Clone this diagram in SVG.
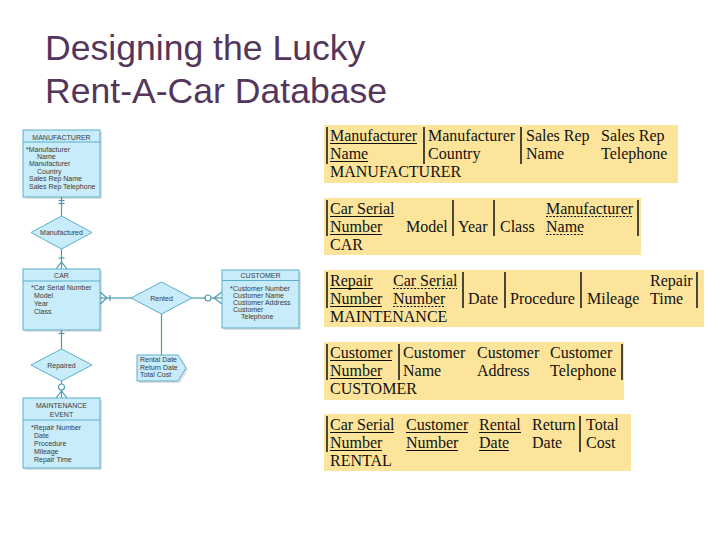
<svg xmlns="http://www.w3.org/2000/svg" width="720" height="540" viewBox="0 0 720 540">
<style>
.title{font-family:"Liberation Sans",Arial,sans-serif;font-size:35.6px;fill:#55365b}
.box{fill:#c8ecfa;stroke:#5aaecb;stroke-width:1}
.shadow{fill:#000;opacity:0.12}
.hdr{font-family:"Liberation Sans",Arial,sans-serif;font-size:7px;fill:#3a3a3a;text-anchor:middle}
.att{font-family:"Liberation Sans",Arial,sans-serif;font-size:7px;fill:#3a3a3a}
.sep{stroke:#5aaecb;stroke-width:1}
.con{stroke:#4a9bb0;stroke-width:1.2;fill:none}
.circ{stroke:#4a9bb0;stroke-width:1.1;fill:#fff}
.tbl{fill:#fde49b}
.vl{stroke:#111;stroke-width:1.5}
.t{font-family:"Liberation Serif","Times New Roman",serif;font-size:16px;fill:#111}
.u{stroke:#111;stroke-width:1}
.d{stroke:#111;stroke-width:1;stroke-dasharray:2 1.5}
</style>
<rect width="720" height="540" fill="#fff"/>
<g id="title">
<text class="title" x="45" y="60">Designing the Lucky</text>
<text class="title" x="45" y="103">Rent-A-Car Database</text>
</g>

<g id="connectors">
<line class="con" x1="61.5" y1="197" x2="61.5" y2="216"/>
<line class="con" x1="58.5" y1="200.5" x2="64.5" y2="200.5"/>
<line class="con" x1="58.5" y1="203.5" x2="64.5" y2="203.5"/>
<line class="con" x1="61.5" y1="249" x2="61.5" y2="269"/>
<line class="con" x1="58.5" y1="258" x2="64.5" y2="258"/>
<path class="con" d="M56,269 L61.5,262 L67,269"/>
<line class="con" x1="100" y1="298" x2="131" y2="298"/>
<path class="con" d="M100,292 L107,298 L100,304"/>
<line class="con" x1="110" y1="295" x2="110" y2="301"/>
<line class="con" x1="192" y1="298" x2="222" y2="298"/>
<path class="con" d="M222,292 L214,298 L222,304"/>
<circle class="circ" cx="208" cy="298" r="3"/>
<line class="con" x1="161.5" y1="314" x2="161.5" y2="355"/>
<line class="con" x1="61.5" y1="330" x2="61.5" y2="349"/>
<line class="con" x1="58.5" y1="333.5" x2="64.5" y2="333.5"/>
<line class="con" x1="61.5" y1="381" x2="61.5" y2="398"/>
<path class="con" d="M56,398 L61.5,391 L67,398"/>
<circle class="circ" cx="61.5" cy="387" r="3"/>
</g>

<g id="manufacturer">
<rect class="shadow" x="25" y="132" width="77" height="67"/>
<rect class="box" x="23" y="130" width="77" height="67"/>
<line class="sep" x1="23" y1="142" x2="100" y2="142"/>
<text class="hdr" x="61.5" y="139.5">MANUFACTURER</text>
<text class="att" x="26" y="151.5">*Manufacturer</text>
<text class="att" x="37" y="158.5">Name</text>
<text class="att" x="29" y="166">Manufacturer</text>
<text class="att" x="37" y="173.5">Country</text>
<text class="att" x="29" y="181">Sales Rep Name</text>
<text class="att" x="29" y="188.5">Sales Rep Telephone</text>
</g>

<g id="manufactured">
<polygon class="box" points="61.5,216 92,232.5 61.5,249 31,232.5"/>
<text class="hdr" x="61.5" y="235">Manufactured</text>
</g>

<g id="car">
<rect class="shadow" x="25" y="271" width="77" height="61"/>
<rect class="box" x="23" y="269" width="77" height="61"/>
<line class="sep" x1="23" y1="281" x2="100" y2="281"/>
<text class="hdr" x="61.5" y="278">CAR</text>
<text class="att" x="31" y="289.5">*Car Serial Number</text>
<text class="att" x="34" y="297.5">Model</text>
<text class="att" x="34" y="305.5">Year</text>
<text class="att" x="34" y="313.5">Class</text>
</g>

<g id="rented">
<polygon class="box" points="131,298 161.5,282 192,298 161.5,314"/>
<text class="hdr" x="161.5" y="300.5">Rented</text>
</g>

<g id="customer">
<rect class="shadow" x="224" y="272" width="77" height="58"/>
<rect class="box" x="222" y="270" width="77" height="58"/>
<line class="sep" x1="222" y1="280.5" x2="299" y2="280.5"/>
<text class="hdr" x="260.5" y="277.5">CUSTOMER</text>
<text class="att" x="230" y="290.5">*Customer Number</text>
<text class="att" x="233" y="297.5">Customer Name</text>
<text class="att" x="233" y="304.5">Customer Address</text>
<text class="att" x="233" y="311.5">Customer</text>
<text class="att" x="241" y="318.5">Telephone</text>
</g>

<g id="rental-attrs">
<path class="shadow" d="M139,357 L180,357 L188,370 L180,383 L139,383 Z"/>
<path class="box" d="M137,355 L178,355 L186,368 L178,381 L137,381 Z"/>
<text class="att" x="140" y="362">Rental Date</text>
<text class="att" x="140" y="369.5">Return Date</text>
<text class="att" x="140" y="377">Total Cost</text>
</g>

<g id="repaired">
<polygon class="box" points="61.5,349 92,365 61.5,381 31,365"/>
<text class="hdr" x="61.5" y="367.5">Repaired</text>
</g>

<g id="maintenance-event">
<rect class="shadow" x="25" y="400" width="77" height="70"/>
<rect class="box" x="23" y="398" width="77" height="70"/>
<line class="sep" x1="23" y1="420" x2="100" y2="420"/>
<text class="hdr" x="61.5" y="408">MAINTENANCE</text>
<text class="hdr" x="61.5" y="416.5">EVENT</text>
<text class="att" x="31" y="429.5">*Repair Number</text>
<text class="att" x="34" y="437.5">Date</text>
<text class="att" x="34" y="445.5">Procedure</text>
<text class="att" x="34" y="453.5">Mileage</text>
<text class="att" x="34" y="461.5">Repair Time</text>
</g>

<g id="table-manufacturer">
<rect class="tbl" x="324" y="125" width="354" height="58"/>
<line class="vl" x1="327" y1="127" x2="327" y2="164"/>
<line class="vl" x1="424" y1="127" x2="424" y2="164"/>
<line class="vl" x1="521" y1="127" x2="521" y2="164"/>
<text class="t" x="330" y="141">Manufacturer</text>
<text class="t" x="330" y="159">Name</text>
<line class="u" x1="330" y1="143.5" x2="417" y2="143.5"/>
<line class="u" x1="330" y1="161.5" x2="368" y2="161.5"/>
<text class="t" x="428" y="141">Manufacturer</text>
<text class="t" x="428" y="159">Country</text>
<text class="t" x="526" y="141">Sales Rep</text>
<text class="t" x="526" y="159">Name</text>
<text class="t" x="601" y="141">Sales Rep</text>
<text class="t" x="601" y="159">Telephone</text>
<text class="t" x="330" y="177">MANUFACTURER</text>
</g>

<g id="table-car">
<rect class="tbl" x="324" y="198" width="317" height="57"/>
<line class="vl" x1="327" y1="200" x2="327" y2="236"/>
<line class="vl" x1="453" y1="200" x2="453" y2="236"/>
<line class="vl" x1="494" y1="200" x2="494" y2="236"/>
<line class="vl" x1="638" y1="200" x2="638" y2="236"/>
<text class="t" x="330" y="214">Car Serial</text>
<text class="t" x="330" y="232">Number</text>
<line class="u" x1="330" y1="216.5" x2="394" y2="216.5"/>
<line class="u" x1="330" y1="234.5" x2="382" y2="234.5"/>
<text class="t" x="406" y="232">Model</text>
<text class="t" x="458" y="232">Year</text>
<text class="t" x="500" y="232">Class</text>
<text class="t" x="546" y="214">Manufacturer</text>
<text class="t" x="546" y="232">Name</text>
<line class="d" x1="546" y1="216.5" x2="633" y2="216.5"/>
<line class="d" x1="546" y1="234.5" x2="584" y2="234.5"/>
<text class="t" x="330" y="250">CAR</text>
</g>

<g id="table-maintenance">
<rect class="tbl" x="324" y="270" width="380" height="57"/>
<line class="vl" x1="327" y1="272" x2="327" y2="308"/>
<line class="vl" x1="463" y1="272" x2="463" y2="308"/>
<line class="vl" x1="505" y1="272" x2="505" y2="308"/>
<line class="vl" x1="581" y1="272" x2="581" y2="308"/>
<line class="vl" x1="697" y1="272" x2="697" y2="308"/>
<text class="t" x="330" y="286">Repair</text>
<text class="t" x="330" y="304">Number</text>
<line class="u" x1="330" y1="288.5" x2="373" y2="288.5"/>
<line class="u" x1="330" y1="306.5" x2="382" y2="306.5"/>
<text class="t" x="393" y="286">Car Serial</text>
<text class="t" x="393" y="304">Number</text>
<line class="d" x1="393" y1="288.5" x2="457" y2="288.5"/>
<line class="d" x1="393" y1="306.5" x2="445" y2="306.5"/>
<text class="t" x="468" y="304">Date</text>
<text class="t" x="510" y="304">Procedure</text>
<text class="t" x="587" y="304">Mileage</text>
<text class="t" x="650" y="286">Repair</text>
<text class="t" x="650" y="304">Time</text>
<text class="t" x="330" y="322">MAINTENANCE</text>
</g>

<g id="table-customer">
<rect class="tbl" x="324" y="342" width="300" height="58"/>
<line class="vl" x1="327" y1="344" x2="327" y2="380"/>
<line class="vl" x1="399" y1="344" x2="399" y2="380"/>
<line class="vl" x1="622" y1="344" x2="622" y2="380"/>
<text class="t" x="330" y="358">Customer</text>
<text class="t" x="330" y="376">Number</text>
<line class="u" x1="330" y1="360.5" x2="392" y2="360.5"/>
<line class="u" x1="330" y1="378.5" x2="382" y2="378.5"/>
<text class="t" x="403" y="358">Customer</text>
<text class="t" x="403" y="376">Name</text>
<text class="t" x="477" y="358">Customer</text>
<text class="t" x="477" y="376">Address</text>
<text class="t" x="550" y="358">Customer</text>
<text class="t" x="550" y="376">Telephone</text>
<text class="t" x="330" y="394">CUSTOMER</text>
</g>

<g id="table-rental">
<rect class="tbl" x="324" y="414" width="307" height="57"/>
<line class="vl" x1="327" y1="416" x2="327" y2="452"/>
<line class="vl" x1="580" y1="416" x2="580" y2="452"/>
<text class="t" x="330" y="430">Car Serial</text>
<text class="t" x="330" y="448">Number</text>
<line class="u" x1="330" y1="432.5" x2="394" y2="432.5"/>
<line class="u" x1="330" y1="450.5" x2="382" y2="450.5"/>
<text class="t" x="406" y="430">Customer</text>
<text class="t" x="406" y="448">Number</text>
<line class="u" x1="406" y1="432.5" x2="468" y2="432.5"/>
<line class="u" x1="406" y1="450.5" x2="458" y2="450.5"/>
<text class="t" x="479" y="430">Rental</text>
<text class="t" x="479" y="448">Date</text>
<line class="u" x1="479" y1="432.5" x2="521" y2="432.5"/>
<line class="u" x1="479" y1="450.5" x2="509" y2="450.5"/>
<text class="t" x="532" y="430">Return</text>
<text class="t" x="532" y="448">Date</text>
<text class="t" x="586" y="430">Total</text>
<text class="t" x="586" y="448">Cost</text>
<text class="t" x="330" y="466">RENTAL</text>
</g>
</svg>
